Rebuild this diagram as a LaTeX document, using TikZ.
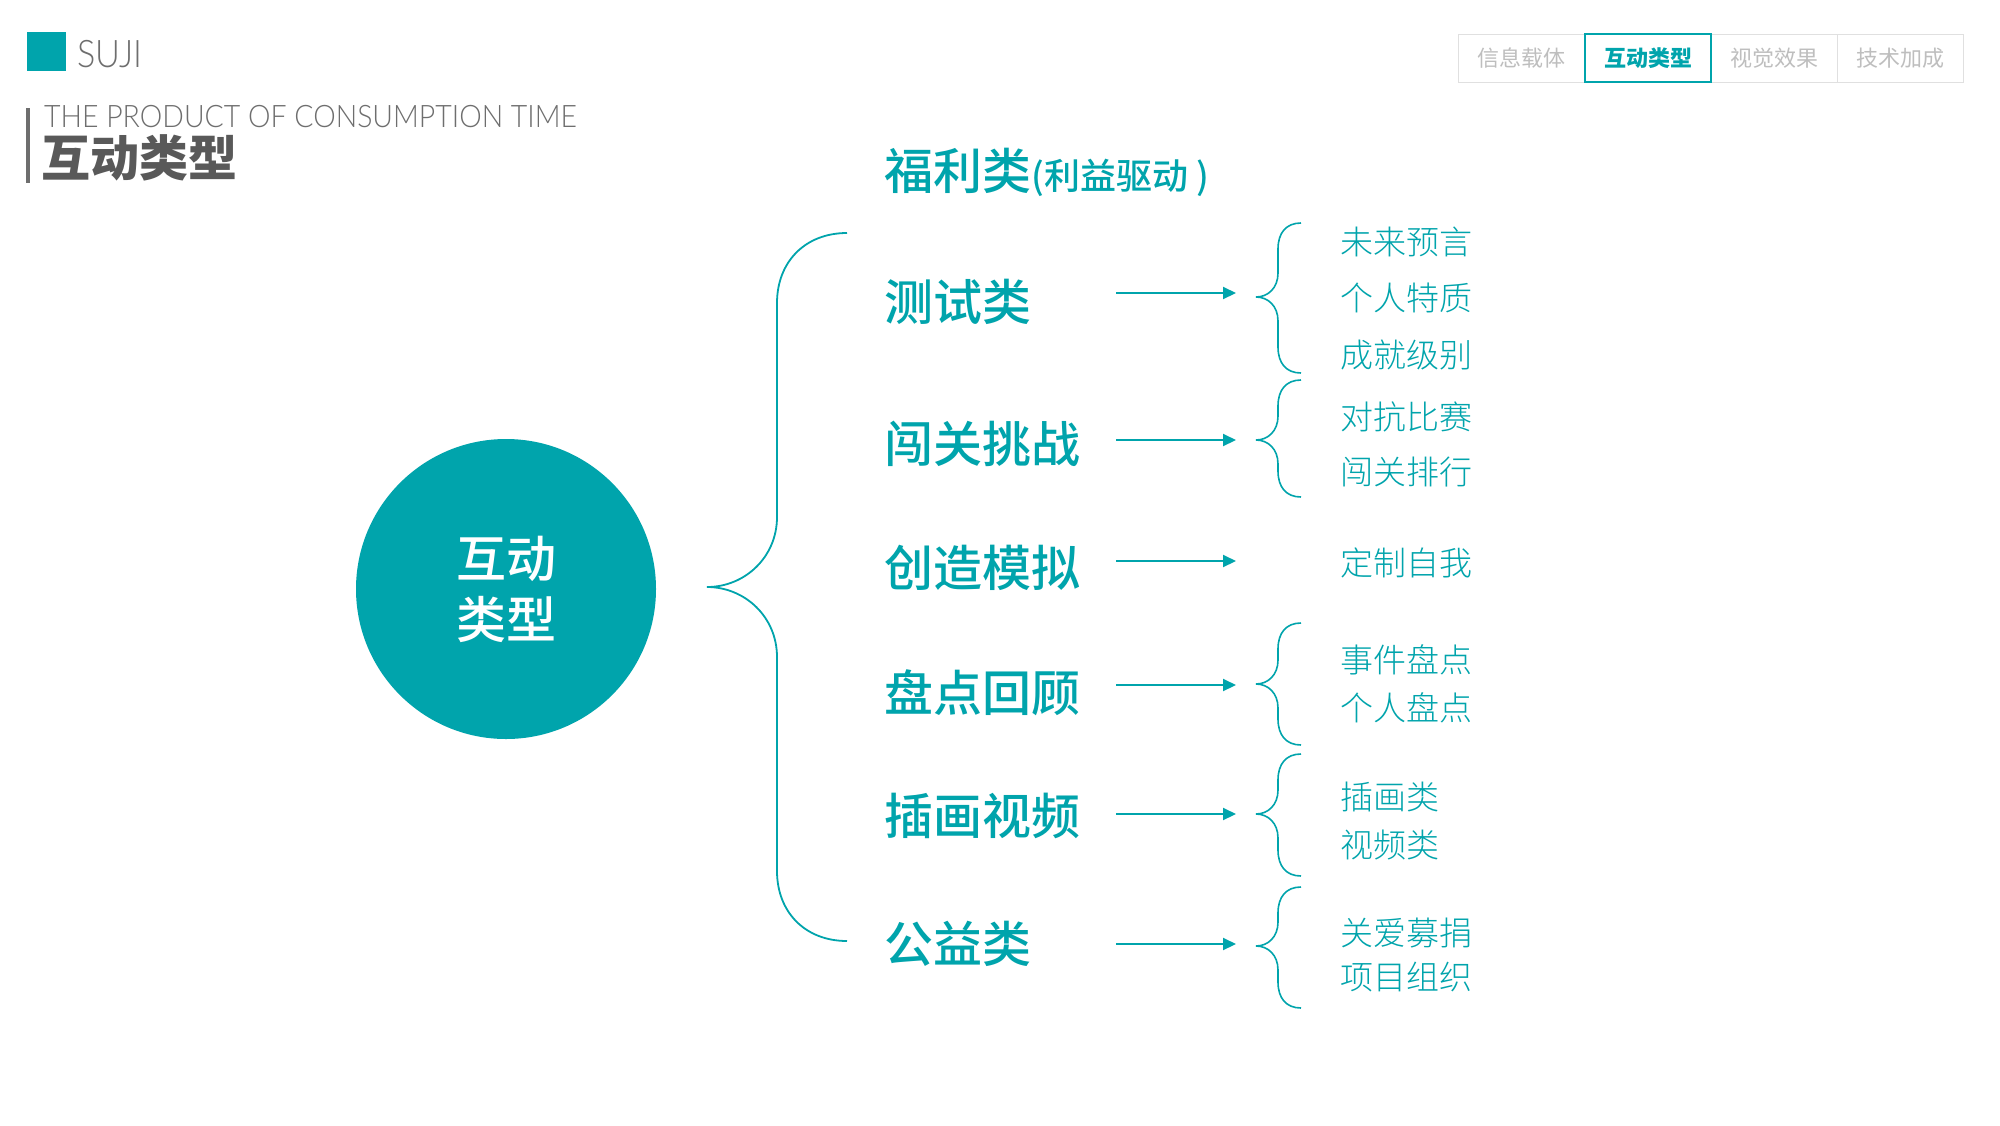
\documentclass[tikz,border=0pt]{standalone}
\usepackage{fontspec}
\usepackage{graphicx}
\usetikzlibrary{arrows.meta}
\setmainfont{Noto Sans CJK SC}
\newfontfamily\latfont{Lato Light}
\newfontfamily\lightcjk{Noto Sans CJK SC Light}
\newfontfamily\medcjk{Noto Sans CJK SC Medium}
\definecolor{teal}{RGB}{0,164,172}
\definecolor{darkgray}{RGB}{89,89,89}
\definecolor{midgray}{RGB}{110,110,110}
\definecolor{tabgray}{RGB}{224,224,224}
\definecolor{tabtext}{RGB}{190,190,190}
\begin{document}
\begin{tikzpicture}[x=1pt,y=-1pt,
  cat/.style={font=\fontsize{49}{49}\selectfont\medcjk, text=teal, anchor=west, inner sep=0pt},
  item/.style={font=\fontsize{33}{33}\selectfont\lightcjk, text=teal, anchor=west, inner sep=0pt},
  conn/.style={draw=teal, line width=2pt, -{Triangle[length=13pt,width=12pt]}},
  bracel/.style={draw=teal, line width=1.6pt},
  tabbox/.style={draw=tabgray, line width=1pt, minimum width=126pt, minimum height=48pt, font=\fontsize{22}{22}\selectfont, text=tabtext, inner sep=0pt}
]
\useasboundingbox[fill=white] (0,0) rectangle (2000,1125);

% header
\fill[teal] (27,32) rectangle (66,71);
\node[anchor=west, inner sep=0pt, text=midgray, font=\latfont\fontsize{38}{38}\selectfont] (suji) at (77,54) {\scalebox{0.9}[1]{SUJI}};
\fill[midgray] (26,108) rectangle (30,183);
\node[anchor=west, inner sep=0pt, text=midgray, font=\latfont\fontsize{31}{31}\selectfont] (sub) at (44,117) {\scalebox{0.917}[1]{THE PRODUCT OF CONSUMPTION TIME}};
\node[anchor=west, inner sep=0pt, text=darkgray, font=\fontsize{49}{49}\selectfont\bfseries] (title) at (41,158) {互动类型};

% tabs
\node[tabbox] (tab1) at (1521.5,58) {信息载体};
\node[tabbox] (tab3) at (1774,58) {视觉效果};
\node[tabbox] (tab4) at (1900.5,58) {技术加成};
\node[tabbox, draw=teal, line width=2pt, text=teal, font=\fontsize{22}{22}\selectfont\bfseries] (tab2) at (1648,58) {互动类型};

% circle
\node[circle, fill=teal, minimum size=300pt, inner sep=0pt] (hub) at (506,589) {};
\node[text=white, inner sep=0pt, font=\fontsize{50}{50}\selectfont\medcjk] (hub1) at (506,559) {互动};
\node[text=white, inner sep=0pt, font=\fontsize{50}{50}\selectfont\medcjk] (hub2) at (506,619) {类型};

% big brace
\draw[bracel, line width=1.8pt] (847,233) .. controls (805,233) and (777,262) .. (777,303) -- (777,517)
  .. controls (777,557) and (745,587) .. (707,587)
  .. controls (745,587) and (777,617) .. (777,657) -- (777,871)
  .. controls (777,912) and (805,941) .. (847,941);

% categories
\node[cat] (c0) at (884,172) {福利类\fontsize{36}{36}\selectfont(利益驱动 )};
\node[cat] (c1) at (884,302) {测试类};
\node[cat] (c2) at (884,444) {闯关挑战};
\node[cat] (c3) at (884,568) {创造模拟};
\node[cat] (c4) at (884,693) {盘点回顾};
\node[cat] (c5) at (884,816) {插画视频};
\node[cat] (c6) at (884,944) {公益类};

% arrows
\foreach \i/\y in {1/293,2/440,3/561,4/685,5/814,6/944}{
  \coordinate (s\i) at (1116,\y);
  \coordinate (e\i) at (1236,\y);
  \draw[conn] (s\i) -- (e\i);
}

% small braces
\foreach \t/\m/\b in {223/297/373, 380/440/497, 623/684/745, 754/814/876, 887/946/1008}{
  \draw[bracel] (1301,\t) .. controls (1286,\t) and (1278,\t+10) .. (1278,\t+26) -- (1278,\m-24)
    .. controls (1278,\m-9) and (1268,\m) .. (1256,\m)
    .. controls (1268,\m) and (1278,\m+9) .. (1278,\m+24) -- (1278,\b-26)
    .. controls (1278,\b-10) and (1286,\b) .. (1301,\b);
}

% items
\node[item] (i1) at (1340,242) {未来预言};
\node[item] (i2) at (1340,298) {个人特质};
\node[item] (i3) at (1340,355) {成就级别};
\node[item] (i4) at (1340,417) {对抗比赛};
\node[item] (i5) at (1340,472) {闯关排行};
\node[item] (i6) at (1340,563) {定制自我};
\node[item] (i7) at (1340,660) {事件盘点};
\node[item] (i8) at (1340,708) {个人盘点};
\node[item] (i9) at (1340,797) {插画类};
\node[item] (i10) at (1340,845) {视频类};
\node[item] (i11) at (1340,933) {关爱募捐};
\node[item] (i12) at (1340,977) {项目组织};
\end{tikzpicture}
\end{document}
